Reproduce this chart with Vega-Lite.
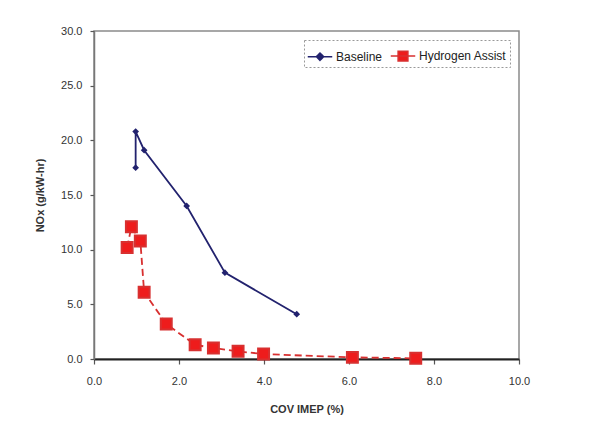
{
  "$schema": "https://vega.github.io/schema/vega-lite/v6.json",
  "width": 425,
  "height": 328,
  "autosize": {"type": "none"},
  "padding": {"left": 94, "top": 31, "right": 84, "bottom": 70},
  "background": "white",
  "config": {
    "font": "Liberation Sans",
    "view": {"stroke": "#8a8a8a", "strokeWidth": 1.5},
    "axis": {"grid": false, "labelFont": "Liberation Sans", "titleFont": "Liberation Sans", "labelColor": "#333", "titleColor": "#333", "labelFontSize": 11, "titleFontSize": 11, "titleFontWeight": "bold", "domainColor": "#555", "tickColor": "#555", "domainWidth": 1.5, "tickWidth": 1.2, "labelFlush": false},
    "legend": {
      "title": null, "orient": "top-right", "offset": 9, "direction": "horizontal",
      "strokeColor": "#999", "padding": 3,
      "labelFontSize": 12, "labelColor": "#222", "labelFont": "Liberation Sans",
      "symbolSize": 600, "columnPadding": 4, "labelOffset": 3, "symbolStrokeWidth": 1.5
    }
  },
  "data": {
    "values": [
      {"series": "Baseline", "order": 1, "cov": 0.98, "nox": 17.5},
      {"series": "Baseline", "order": 2, "cov": 0.98, "nox": 20.8},
      {"series": "Baseline", "order": 3, "cov": 1.18, "nox": 19.1},
      {"series": "Baseline", "order": 4, "cov": 2.18, "nox": 14.0},
      {"series": "Baseline", "order": 5, "cov": 3.08, "nox": 7.9},
      {"series": "Baseline", "order": 6, "cov": 4.77, "nox": 4.1},
      {"series": "Hydrogen Assist", "order": 1, "cov": 0.78, "nox": 10.2},
      {"series": "Hydrogen Assist", "order": 2, "cov": 0.88, "nox": 12.1},
      {"series": "Hydrogen Assist", "order": 3, "cov": 1.09, "nox": 10.8},
      {"series": "Hydrogen Assist", "order": 4, "cov": 1.18, "nox": 6.1},
      {"series": "Hydrogen Assist", "order": 5, "cov": 1.70, "nox": 3.2},
      {"series": "Hydrogen Assist", "order": 6, "cov": 2.38, "nox": 1.3},
      {"series": "Hydrogen Assist", "order": 7, "cov": 2.81, "nox": 1.0},
      {"series": "Hydrogen Assist", "order": 8, "cov": 3.39, "nox": 0.7},
      {"series": "Hydrogen Assist", "order": 9, "cov": 3.99, "nox": 0.45},
      {"series": "Hydrogen Assist", "order": 10, "cov": 6.08, "nox": 0.15},
      {"series": "Hydrogen Assist", "order": 11, "cov": 7.57, "nox": 0.06}
    ]
  },
  "encoding": {
    "x": {"field": "cov", "type": "quantitative", "title": "COV IMEP (%)",
      "scale": {"domain": [0, 10], "nice": false, "zero": true},
      "axis": {"values": [0, 2, 4, 6, 8, 10], "format": ".1f", "tickSize": 5, "labelPadding": 11, "titlePadding": 17, "domainColor": "#222", "domainWidth": 2}},
    "y": {"field": "nox", "type": "quantitative", "title": "NOx (g/kW-hr)",
      "scale": {"domain": [0, 30], "nice": false},
      "axis": {"values": [0, 5, 10, 15, 20, 25, 30], "format": ".1f", "tickSize": 4, "labelPadding": 8, "titlePadding": 15, "domainColor": "#777"}}
  },
  "layer": [
    {
      "transform": [{"filter": "datum.series === 'Baseline'"}],
      "mark": {"type": "line", "strokeWidth": 1.8},
      "encoding": {
        "order": {"field": "order", "type": "quantitative"},
        "stroke": {"field": "series", "type": "nominal",
          "scale": {"domain": ["Baseline", "Hydrogen Assist"], "range": ["#22226e", "#d83030"]},
          "legend": {
            "encode": {
              "legend": {"update": {"strokeDash": {"value": [2, 2]}}},
              "symbols": {"update": {
                "shape": {"signal": "datum.value === 'Baseline' ? 'M-1,0H1M0,-0.3L0.3,0L0,0.3L-0.3,0Z' : 'M-1,0H1M-0.4,-0.4H0.4V0.4H-0.4Z'"},
                "strokeWidth": {"value": 1.5},
                "strokeDash": {"value": [1, 0]}
              }}
            }
          }}
      }
    },
    {
      "transform": [{"filter": "datum.series === 'Hydrogen Assist'"}],
      "mark": {"type": "line", "strokeWidth": 1.8, "strokeDash": [7, 4]},
      "encoding": {
        "order": {"field": "order", "type": "quantitative"},
        "stroke": {"field": "series", "type": "nominal",
          "scale": {"domain": ["Baseline", "Hydrogen Assist"], "range": ["#22226e", "#d83030"]}}
      }
    },
    {
      "transform": [{"filter": "datum.series === 'Baseline'"}],
      "mark": {"type": "point", "filled": true, "opacity": 1, "shape": "diamond", "size": 45},
      "encoding": {
        "color": {"field": "series", "type": "nominal", "scale": {"domain": ["Baseline", "Hydrogen Assist"], "range": ["#22226e", "#ee1c1c"]},
          "legend": {
            "encode": {
              "legend": {"update": {"strokeDash": {"value": [2, 2]}}},
              "symbols": {"update": {
                "shape": {"signal": "datum.value === 'Baseline' ? 'M-1,0H1M0,-0.3L0.3,0L0,0.3L-0.3,0Z' : 'M-1,0H1M-0.4,-0.4H0.4V0.4H-0.4Z'"},
                "strokeWidth": {"value": 1.5},
                "strokeDash": {"value": [1, 0]}
              }}
            }
          }}
      }
    },
    {
      "transform": [{"filter": "datum.series === 'Hydrogen Assist'"}],
      "mark": {"type": "point", "filled": true, "opacity": 1, "shape": "square", "size": 120},
      "encoding": {
        "color": {"field": "series", "type": "nominal", "scale": {"domain": ["Baseline", "Hydrogen Assist"], "range": ["#22226e", "#ee1c1c"]}},
        "stroke": {"field": "series", "type": "nominal", "scale": {"domain": ["Baseline", "Hydrogen Assist"], "range": ["#22226e", "#d83030"]}}
      }
    }
  ]
}
